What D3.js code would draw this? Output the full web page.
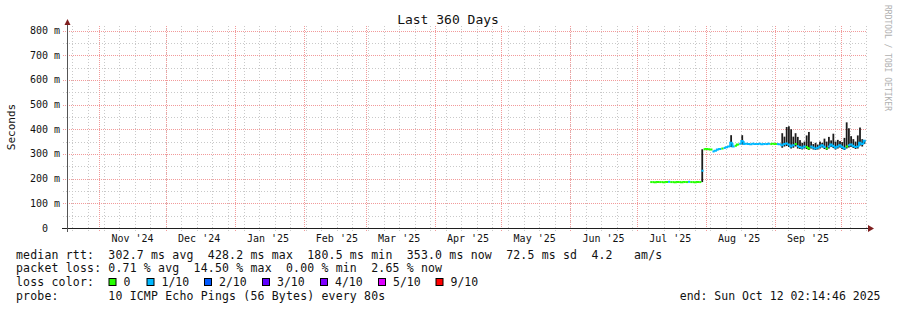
<!DOCTYPE html>
<html>
<head>
<meta charset="utf-8">
<script src="https://cdn.jsdelivr.net/npm/d3@7"></script>
<style>
    body { margin: 0; background: #fff; }
    text { font-family: "DejaVu Sans Mono", monospace; fill: #111; }
</style>
</head>
<body>
<div id="chart"></div>
<script>
// time window of the graph (360 days up to the end stamp)
const endTime = new Date(Date.UTC(2025, 9, 12, 2, 14, 46));
const startTime = d3.utcDay.offset(endTime, -360);

// daily median rtt (ms) and loss (pings lost out of 10), from Jul 7 2025
const firstDay = new Date(Date.UTC(2025, 6, 7));
const medianRtt = [
    186,186,185,186,186,186,185,186,187,186,186,185,186,186,185,186,186,187,186,186,185,186,186,232,319,
    320,319,318,310,313,318,320,322,324,327,330,345,330,333,338,341,352,340,341,340,339,341,340,340,341,339,340,340,341,340,341,
    340,340,339,335,340,342,338,330,335,340,332,328,325,330,328,322,330,326,322,325,330,335,328,322,330,338,332,325,330,335,
    328,322,330,335,338,332,328,330,345,340,353
];
const lossCount = [
    0,0,0,0,0,0,0,0,1,0,0,0,0,0,0,0,0,1,0,0,0,0,0,1,0,
    0,0,0,1,1,1,1,0,1,1,1,1,1,0,0,1,1,1,1,1,1,1,1,1,1,1,1,1,1,0,0,
    0,1,1,1,1,1,1,1,1,0,1,1,1,1,0,0,1,1,1,1,1,1,1,0,1,1,1,1,1,1,
    1,1,0,1,1,1,1,1,1,1,1
];

// smoke (spread of the pings) for the days where it shows
const smokeDays = ["2025-07-30","2025-08-12","2025-08-17",
    "2025-09-04","2025-09-05","2025-09-06","2025-09-07","2025-09-08","2025-09-09","2025-09-10","2025-09-11",
    "2025-09-12","2025-09-13","2025-09-14","2025-09-15","2025-09-16","2025-09-17","2025-09-18","2025-09-19",
    "2025-09-20","2025-09-21","2025-09-22","2025-09-23","2025-09-24","2025-09-25","2025-09-26","2025-09-27",
    "2025-09-28","2025-09-29","2025-09-30","2025-10-01","2025-10-02","2025-10-03","2025-10-04","2025-10-05",
    "2025-10-06","2025-10-07","2025-10-08","2025-10-09","2025-10-10","2025-10-11"];
const smokeLo = [186,328,338,
    325,330,332,328,322,325,330,322,320,318,322,320,316,322,318,316,318,322,326,320,316,322,328,324,318,322,326,
    320,316,322,326,328,324,320,322,334,330,340];
const smokeHi = [319,376,376,
    384,370,409,412,400,370,384,369,356,345,350,375,389,350,340,345,338,350,345,362,350,369,355,382,350,357,352,
    348,365,428,404,372,360,350,375,407,360,356];

const yTicks = [0, 100, 200, 300, 400, 500, 600, 700, 800];
const yMinor = [50, 150, 250, 350, 450, 550, 650, 750];

const lossLabels = ["0", "1/10", "2/10", "3/10", "4/10", "5/10", "9/10"];
const lossColors = ["#26ff00", "#00b8ff", "#0059ff", "#5e00ff", "#7e00ff", "#dd00ff", "#ff0000"];
const lossBoxX = [108.5, 146.5, 204, 262, 320, 378, 435.5];

const legendRows = [
    "median rtt:  302.7 ms avg  428.2 ms max  180.5 ms min  353.0 ms now  72.5 ms sd  4.2   am/s",
    "packet loss: 0.71 % avg  14.50 % max  0.00 % min  2.65 % now",
    "loss color:",
    "probe:       10 ICMP Echo Pings (56 Bytes) every 80s"
];
const endLabel = "end: Sun Oct 12 02:14:46 2025";

let width = 897, height = 310;
let plotLeft = 66, plotRight = 866, plotTop = 26, plotBottom = 228;

let svg = d3.select("#chart").append("svg")
    .attr("width", width)
    .attr("height", height);

let x = d3.scaleUtc()
    .domain([startTime, endTime])
    .range([plotLeft, plotRight]);

let y = d3.scaleLinear()
    .domain([0, 800])
    .range([plotBottom, 30.5]);

//Grid
let grid = svg.append("g").attr("class", "grid");
const minorCol = "#c9c9c9", majorCol = "#f29a9a";

d3.utcSunday.range(startTime, endTime).forEach(d => {
    let xp = Math.round(x(d)) + 0.5;
    grid.append("line").attr("x1", xp).attr("x2", xp).attr("y1", plotTop).attr("y2", plotBottom + 3)
        .style("stroke", minorCol).style("stroke-dasharray", "1,2");
});
yMinor.forEach(v => {
    let yp = Math.round(y(v)) + 0.5;
    grid.append("line").attr("x1", plotLeft - 3).attr("x2", plotRight + 1).attr("y1", yp).attr("y2", yp)
        .style("stroke", minorCol).style("stroke-dasharray", "1,2");
});
d3.utcMonth.range(startTime, endTime).forEach(d => {
    let xp = Math.round(x(d)) + 0.5;
    grid.append("line").attr("x1", xp).attr("x2", xp).attr("y1", plotTop).attr("y2", plotBottom + 3)
        .style("stroke", majorCol).style("stroke-dasharray", "1,1");
});
yTicks.filter(v => v > 0).forEach(v => {
    let yp = Math.round(y(v)) + 0.5;
    grid.append("line").attr("x1", plotLeft - 3).attr("x2", plotRight + 1).attr("y1", yp).attr("y2", yp)
        .style("stroke", majorCol).style("stroke-dasharray", "1,1");
});

//Smoke
let dayW = x(d3.utcDay.offset(firstDay, 1)) - x(firstDay);
svg.append("g").attr("class", "smoke")
    .selectAll("rect")
    .data(smokeDays.map((d, i) => ({day: new Date(d + "T00:00:00Z"), lo: smokeLo[i], hi: smokeHi[i]})))
    .enter().append("rect")
    .attr("x", d => x(d.day))
    .attr("width", dayW * 0.8)
    .attr("y", d => y(d.hi))
    .attr("height", d => y(d.lo) - y(d.hi))
    .style("fill", "#1c1c1c");

//Median line coloured by loss
let med = medianRtt.map((v, i) => ({day: d3.utcDay.offset(firstDay, i), v: v, loss: lossCount[i]}));
let lossColor = n => lossColors[Math.min(n, 6)];
let medG = svg.append("g").attr("class", "median");
med.forEach((d, i) => {
    let x0 = x(d.day), x1 = x0 + dayW;
    let p = "M" + x0 + "," + y(d.v) + "H" + x1;
    if (i > 0 && med[i - 1].loss === d.loss && med[i - 1].v !== d.v) {
        p = "M" + x0 + "," + y(med[i - 1].v) + "V" + y(d.v) + "H" + x1;
    }
    medG.append("path").attr("d", p)
        .style("fill", "none")
        .style("stroke", lossColor(d.loss))
        .style("stroke-width", 2);
});

//Axes
let axisG = svg.append("g").attr("class", "axes");
axisG.append("line").attr("x1", 62).attr("x2", 869).attr("y1", plotBottom + 0.5).attr("y2", plotBottom + 0.5)
    .style("stroke", "#1f1f1f");
axisG.append("line").attr("x1", 67.5).attr("x2", 67.5).attr("y1", plotBottom + 4).attr("y2", 24)
    .style("stroke", "#555");
axisG.append("path").attr("d", "M868,225L874,228.5L868,232Z").style("fill", "#7f1f1f");
axisG.append("path").attr("d", "M64.5,25L67.5,19L70.5,25Z").style("fill", "#7f1f1f");

// y labels
svg.append("g").selectAll("text")
    .data(yTicks)
    .enter().append("text")
    .attr("x", d => d === 0 ? 48 : 60)
    .attr("y", d => y(d) + 3.5)
    .style("font-size", "10px")
    .style("text-anchor", "end")
    .text(d => d === 0 ? "0" : d + " m");

// month labels, centred half a month after the month start
let fmt = d3.utcFormat("%b '%y");
let labelDays = d3.utcMonth.range(d3.utcMonth.floor(startTime), endTime)
    .map(m => d3.utcDay.offset(m, 15))
    .filter(d => d > startTime && d < endTime);
svg.append("g").selectAll("text")
    .data(labelDays)
    .enter().append("text")
    .attr("x", d => x(d))
    .attr("y", 242)
    .style("font-size", "10px")
    .style("text-anchor", "middle")
    .text(d => fmt(d3.utcMonth.floor(d)));

// titles
svg.append("text")
    .attr("x", 448).attr("y", 23.5)
    .style("font-size", "13px")
    .style("text-anchor", "middle")
    .text("Last 360 Days");

svg.append("text")
    .attr("transform", "translate(15,127) rotate(-90)")
    .style("font-size", "11px")
    .style("text-anchor", "middle")
    .text("Seconds");

svg.append("text")
    .attr("transform", "translate(884.5,5) rotate(90)")
    .style("font-size", "8px")
    .style("fill", "#b0b0b0")
    .text("RRDTOOL / TOBI OETIKER");

//Legend (monospace rows, spaces kept)
let leg = svg.append("g").attr("class", "legend");
legendRows.forEach((row, r) => {
    leg.append("text")
        .attr("x", 16)
        .attr("y", 258.5 + r * 13.8)
        .attr("xml:space", "preserve")
        .style("white-space", "pre")
        .style("font-size", "11.5px")
        .style("letter-spacing", "0.18px")
        .text(row);
});
lossLabels.forEach((t, i) => {
    leg.append("rect")
        .attr("x", lossBoxX[i] + 0.5).attr("y", 278.5)
        .attr("width", 7).attr("height", 7)
        .style("fill", lossColors[i])
        .style("stroke", "#000");
    leg.append("text")
        .attr("x", lossBoxX[i] + 15)
        .attr("y", 258.5 + 2 * 13.8)
        .style("font-size", "11.5px")
        .text(t);
});
leg.append("text")
    .attr("x", 880.5)
    .attr("y", 258.5 + 3 * 13.8)
    .style("font-size", "11.5px")
    .style("text-anchor", "end")
    .text(endLabel);
</script>
</body>
</html>
